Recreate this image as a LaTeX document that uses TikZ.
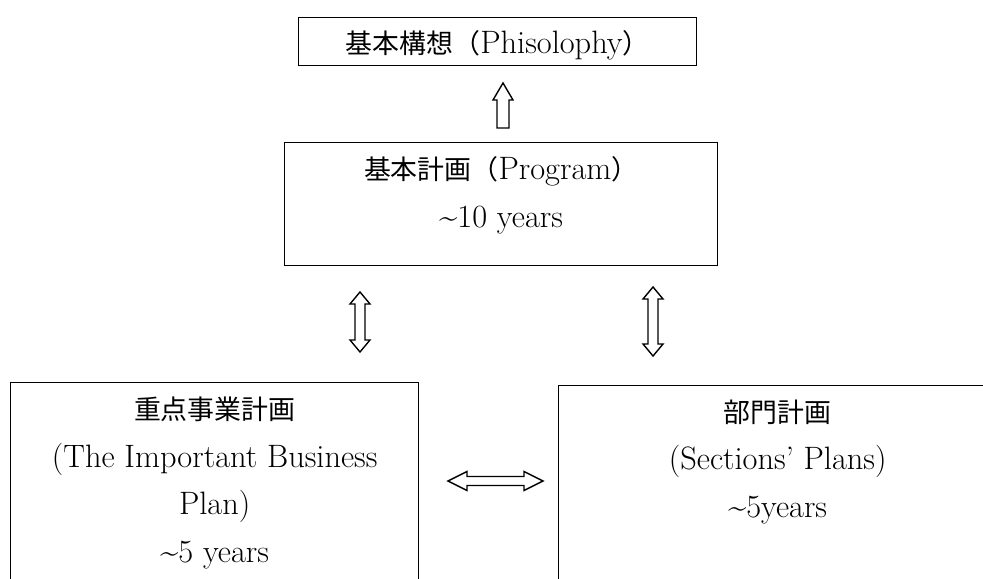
\documentclass[tikz,border=0pt]{standalone}
\usepackage{fontspec}
\newfontfamily\jpfont{Noto Sans CJK JP}
\usetikzlibrary{calc}
\newcommand\jp[1]{{\fontsize{27}{48}\selectfont\jpfont #1}}
\tikzset{box/.style={draw, line width=1.4bp, inner sep=0pt, align=center, anchor=north west},
	arr/.style={draw, line width=1.4bp, line join=miter, fill=white}}
% hollow arrows: \ahl head length, \ahw head half width, \asw shaft half width
\newcommand\dblarr[2]{\draw[arr] (#1) -- ($(#1)!\ahl!(#2)!\ahw!90:(#2)$) -- ($(#1)!\ahl!(#2)!\asw!90:(#2)$) -- ($(#2)!\ahl!(#1)!\asw!-90:(#1)$) -- ($(#2)!\ahl!(#1)!\ahw!-90:(#1)$) -- (#2) -- ($(#2)!\ahl!(#1)!\ahw!90:(#1)$) -- ($(#2)!\ahl!(#1)!\asw!90:(#1)$) -- ($(#1)!\ahl!(#2)!\asw!-90:(#2)$) -- ($(#1)!\ahl!(#2)!\ahw!-90:(#2)$) -- cycle;}
\newcommand\onearr[2]{\draw[arr] ($(#1)!\asw!90:(#2)$) -- ($(#2)!\ahl!(#1)!\asw!-90:(#1)$) -- ($(#2)!\ahl!(#1)!\ahw!-90:(#1)$) -- (#2) -- ($(#2)!\ahl!(#1)!\ahw!90:(#1)$) -- ($(#2)!\ahl!(#1)!\asw!90:(#1)$) -- ($(#1)!\asw!-90:(#2)$) -- cycle;}
\begin{document}
\begin{tikzpicture}[x=1bp, y=-1bp, font=\fontsize{32.5}{48}\selectfont]
\useasboundingbox (0,0) rectangle (983,579);
\clip (0,0) rectangle (983,579);
%	\draw[color=gray!50,dashed] (0,0) grid[step=50] (983,579);
\node[box, minimum width=398bp, text height=36bp, text depth=12bp] (phil) at (298,17) {\jp{基本構想（}Phisolophy\jp{）}};
\node[box, minimum width=433bp, text height=85bp, text depth=38bp] (prog) at (284,142) {\jp{基本計画（}Program\jp{）}\\\textasciitilde10 years};
\node[box, minimum width=408bp, text height=180bp, text depth=60bp] (imp) at (10,382) {\jp{重点事業計画}\\(The Important Business\\Plan)\\\textasciitilde5 years};
\node[box, minimum width=438bp, text height=132bp, text depth=110bp] (sec) at (558,385) {\jp{部門計画}\\(Sections' Plans)\\\textasciitilde5years};
\coordinate (u1) at (503,128); \coordinate (u2) at (503,83);
\coordinate (l1) at (360,292); \coordinate (l2) at (360,352);
\coordinate (r1) at (653,287); \coordinate (r2) at (653,356);
\coordinate (h1) at (448,481); \coordinate (h2) at (543,481);
\def\ahl{17bp} \def\ahw{10bp} \def\asw{6bp}
\onearr{u1}{u2}
\def\ahl{12bp} \def\ahw{10bp} \def\asw{5bp}
\dblarr{l1}{l2}
\dblarr{r1}{r2}
\def\ahl{19bp} \def\ahw{9.5bp} \def\asw{4.5bp}
\dblarr{h1}{h2}
\end{tikzpicture}
\end{document}
